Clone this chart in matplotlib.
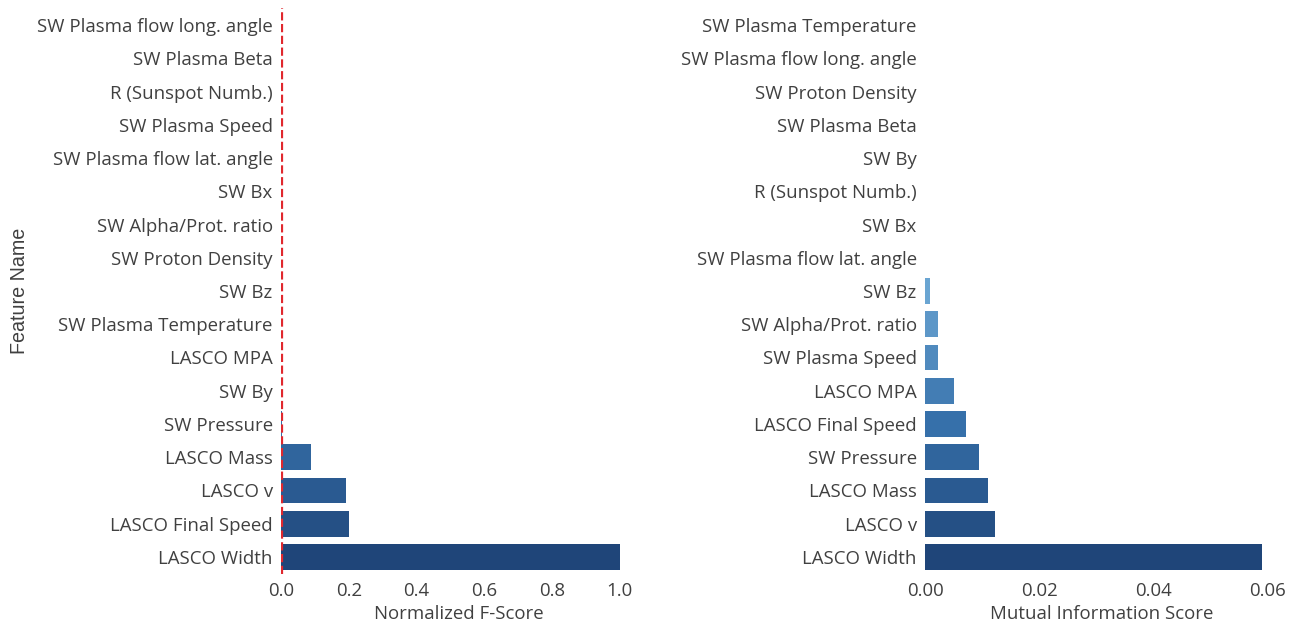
import matplotlib
matplotlib.use("Agg")
import matplotlib.pyplot as plt
import numpy as np
from matplotlib.colors import LinearSegmentedColormap

# ---- data ----
f_features = ["SW Plasma flow long. angle", "SW Plasma Beta", "R (Sunspot Numb.)",
              "SW Plasma Speed", "SW Plasma flow lat. angle", "SW Bx",
              "SW Alpha/Prot. ratio", "SW Proton Density", "SW Bz",
              "SW Plasma Temperature", "LASCO MPA", "SW By", "SW Pressure",
              "LASCO Mass", "LASCO v", "LASCO Final Speed", "LASCO Width"]
f_scores = [0.0, 0.0, 0.0, 0.0, 0.0, 0.0, 0.0, 0.0, 0.0, 0.0, 0.0, 0.0, 0.003,
            0.088, 0.192, 0.200, 1.0]

mi_features = ["SW Plasma Temperature", "SW Plasma flow long. angle", "SW Proton Density",
               "SW Plasma Beta", "SW By", "R (Sunspot Numb.)", "SW Bx",
               "SW Plasma flow lat. angle", "SW Bz", "SW Alpha/Prot. ratio",
               "SW Plasma Speed", "LASCO MPA", "LASCO Final Speed", "SW Pressure",
               "LASCO Mass", "LASCO v", "LASCO Width"]
mi_scores = [0.0, 0.0, 0.0, 0.0, 0.0, 0.0, 0.0, 0.0, 0.0008, 0.0023, 0.0023,
             0.0051, 0.0071, 0.0094, 0.0110, 0.0122, 0.0590]

f_threshold = 0.004

# ---- style ----
cmap = LinearSegmentedColormap.from_list(
    "bl", [(0.0, "#dfe9f4"), (0.5, "#6aa5d2"), (0.72, "#3670aa"), (1.0, "#1a3b6d")])
n = len(f_features)
colors = [cmap((i + 1) / (n + 1)) for i in range(n)]

text_color = "#404040"
tick_font = "Open Sans"
fs = 13.4

fig = plt.figure(figsize=(12.99, 6.27), dpi=100)
ax1 = fig.add_axes([281 / 1299, 1 - 573.6 / 627, 355.5 / 1299, 565.2 / 627])
ax2 = fig.add_axes([925 / 1299, 1 - 573.6 / 627, 354 / 1299, 565.2 / 627])

for ax, feats, vals in [(ax1, f_features, f_scores), (ax2, mi_features, mi_scores)]:
    y = np.arange(len(feats))
    ax.barh(y, vals, height=0.78, color=colors, edgecolor="none")
    ax.set_yticks(y)
    ax.set_yticklabels(feats, fontname=tick_font, fontsize=fs, color=text_color)
    ax.set_ylim(len(feats) - 0.5, -0.5)
    for s in ax.spines.values():
        s.set_visible(False)
    ax.tick_params(axis="y", length=0, pad=6, labelcolor=text_color)
    ax.tick_params(axis="x", length=0, pad=6, labelcolor=text_color)

ax1.set_xlim(0, 1.05)
ax1.set_xticks([0.0, 0.2, 0.4, 0.6, 0.8, 1.0])
ax1.set_xticklabels(["0.0", "0.2", "0.4", "0.6", "0.8", "1.0"], fontname=tick_font,
                    fontsize=fs, color=text_color)
ax1.axvline(f_threshold, color="#e0282e", linestyle="--", linewidth=1.6)
ax1.set_xlabel("Normalized F-Score", fontname=tick_font, fontsize=fs,
               color=text_color, labelpad=4)
ax1.set_ylabel("Feature Name", fontname="Liberation Sans", fontsize=14.2,
               color=text_color)
ax1.yaxis.set_label_coords(-0.71, 0.5)

ax2.set_xlim(0, 0.062)
ax2.set_xticks([0.0, 0.02, 0.04, 0.06])
ax2.set_xticklabels(["0.00", "0.02", "0.04", "0.06"], fontname=tick_font,
                    fontsize=fs, color=text_color)
ax2.set_xlabel("Mutual Information Score", fontname=tick_font, fontsize=fs,
               color=text_color, labelpad=4)

fig.savefig("out.png", dpi=100)
